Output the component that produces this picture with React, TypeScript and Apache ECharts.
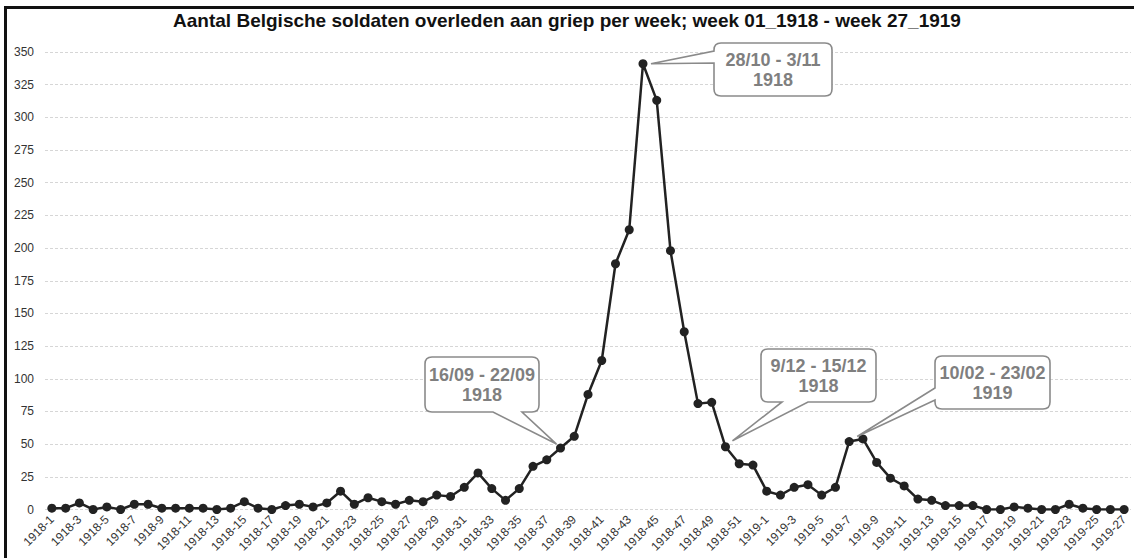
import React, { useEffect, useRef } from "react";
import * as echarts from "echarts";

const deaths1918 = [1,1,5,0,2,0,4,4,1,1,1,1,0,1,6,1,0,3,4,2,5,14,4,9,6,4,7,6,11,10,17,28,16,7,16,33,38,47,56,88,114,188,214,341,313,198,136,81,82,48,35,34];
const deaths1919 = [14,11,17,19,11,17,52,54,36,24,18,8,7,3,3,3,0,0,2,1,0,0,4,1,0,0,0];
const weeks = [
  ...deaths1918.map((_, i) => `1918-${i + 1}`),
  ...deaths1919.map((_, i) => `1919-${i + 1}`),
];
const values = [...deaths1918, ...deaths1919];
const titleText = "Aantal Belgische soldaten overleden aan griep per week; week 01_1918 - week 27_1919";

const calloutLabels = [
  ["16/09 - 22/09", "1918"],
  ["28/10 - 3/11", "1918"],
  ["9/12 - 15/12", "1918"],
  ["10/02 - 23/02", "1919"],
];
const calloutIndex = [37, 43, 49, 58];
// layout: box [x0,y0,x1,y1], side, base points, tip offset from the data point
const calloutLayout = [
  { box: [425, 357, 539, 412], side: "bottom", base: [493, 522], off: [-4, -4] },
  { box: [714, 43, 832, 96], side: "left", base: [51, 63], off: [8, 0] },
  { box: [761, 349, 876, 402], side: "bottom", base: [782, 808], off: [7, -6] },
  { box: [935, 356, 1050, 409], side: "left", base: [388, 400], off: [8, -5] },
];

function calloutPath(box: number[], side: string, base: number[], tip: number[]) {
  const [x0, y0, x1, y1] = box;
  const r = 7;
  let d = `M ${x0 + r} ${y0} L ${x1 - r} ${y0} Q ${x1} ${y0} ${x1} ${y0 + r} L ${x1} ${y1 - r} Q ${x1} ${y1} ${x1 - r} ${y1} `;
  if (side === "bottom") {
    d += `L ${base[1]} ${y1} L ${tip[0]} ${tip[1]} L ${base[0]} ${y1} `;
  }
  d += `L ${x0 + r} ${y1} Q ${x0} ${y1} ${x0} ${y1 - r} `;
  if (side === "left") {
    d += `L ${x0} ${base[1]} L ${tip[0]} ${tip[1]} L ${x0} ${base[0]} `;
  }
  d += `L ${x0} ${y0 + r} Q ${x0} ${y0} ${x0 + r} ${y0} Z`;
  return d;
}

export default function App() {
  const ref = useRef<HTMLDivElement>(null);
  useEffect(() => {
    if (!ref.current) return;
    const chart = echarts.init(ref.current, null, { renderer: "svg" });
    chart.setOption({
      animation: false,
      backgroundColor: "#ffffff",
      title: {
        text: titleText,
        left: "center",
        top: 6,
        textStyle: { fontFamily: "Arial", fontSize: 19, fontWeight: "bold", color: "#111111" },
      },
      grid: { left: 45, right: 3, top: 52, bottom: 48.5, containLabel: false },
      xAxis: {
        type: "category",
        data: weeks,
        boundaryGap: true,
        axisLine: { show: false },
        axisTick: { show: false },
        axisLabel: {
          interval: 1,
          rotate: 45,
          fontFamily: "Arial",
          fontSize: 12,
          color: "#333333",
          margin: 8,
        },
      },
      yAxis: {
        type: "value",
        min: 0,
        max: 350,
        interval: 25,
        axisLine: { show: false },
        axisTick: { show: false },
        axisLabel: { fontFamily: "Arial", fontSize: 12, color: "#333333", margin: 11 },
        splitLine: { lineStyle: { color: "#d6d6d6", type: [3, 2], width: 1 } },
      },
      series: [
        {
          type: "line",
          data: values,
          symbol: "circle",
          symbolSize: 9,
          lineStyle: { color: "#222222", width: 2.5 },
          itemStyle: { color: "#222222" },
        },
      ],
    });

    const graphics: any[] = [
      { type: "rect", shape: { x: 4, y: 6, width: 1130, height: 3 }, style: { fill: "#111111" }, z: 100 },
      { type: "rect", shape: { x: 4, y: 6, width: 3, height: 552 }, style: { fill: "#111111" }, z: 100 },
    ];
    calloutLayout.forEach((c, k) => {
      const idx = calloutIndex[k];
      const p = chart.convertToPixel({ gridIndex: 0 }, [weeks[idx], values[idx]]) as number[];
      const tip = [p[0] + c.off[0], p[1] + c.off[1]];
      const d = calloutPath(c.box, c.side, c.base, tip);
      const name = `callout${k}`;
      echarts.graphic.registerShape(name, echarts.graphic.extendPath(d, {}));
      graphics.push({
        type: name,
        x: 0,
        y: 0,
        style: { fill: "#ffffff", stroke: "#8a8a8a", lineWidth: 1.6 },
        z: 100,
      });
      const cx = (c.box[0] + c.box[2]) / 2;
      const cy = (c.box[1] + c.box[3]) / 2;
      calloutLabels[k].forEach((t, j) => {
        graphics.push({
          type: "text",
          x: cx,
          y: cy - 10 + j * 20,
          style: {
            text: t,
            fill: "#7f7f7f",
            font: "bold 18px Arial",
            textAlign: "center",
            textVerticalAlign: "middle",
          },
          z: 101,
        });
      });
    });
    chart.setOption({ graphic: graphics });
    return () => chart.dispose();
  }, []);
  return (
    <div
      ref={ref}
      style={{ position: "fixed", left: 0, top: 0, width: 1134, height: 558 }}
    />
  );
}
